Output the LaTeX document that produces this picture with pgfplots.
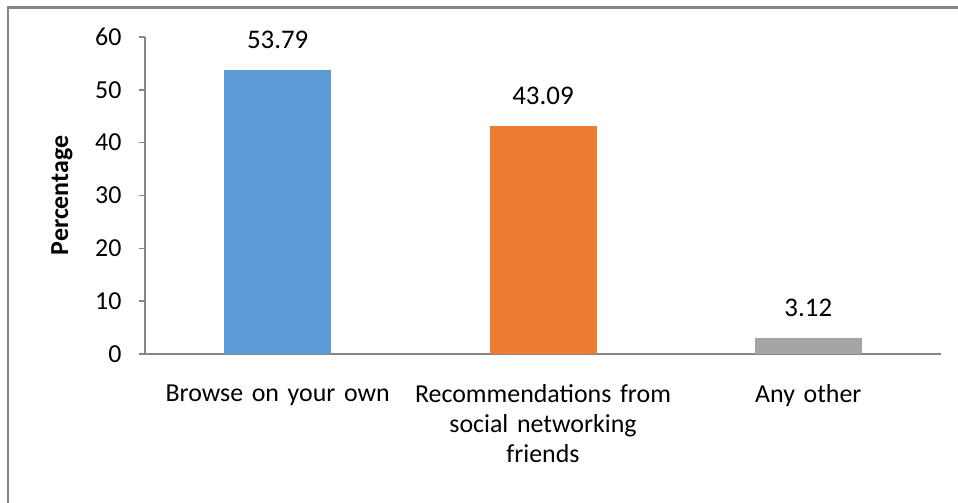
\documentclass[border=0pt]{standalone}
\usepackage{pgfplots}
\pgfplotsset{compat=1.18}
\usepackage{fontspec}
\setmainfont{Carlito}
\definecolor{axgray}{HTML}{868686}
\definecolor{cblue}{HTML}{5B9BD5}
\definecolor{corange}{HTML}{ED7D31}
\definecolor{cgray}{HTML}{A5A5A5}
\begin{document}
\begin{tikzpicture}[x=1bp,y=1bp]
\useasboundingbox (-145,-149) rectangle (813,354);
\draw[axgray, line width=2.2bp] (-137,-149) -- (-137,346.5) -- (813,346.5);
\begin{axis}[
  at={(0,0)}, anchor=south west,
  scale only axis, width=796bp, height=317bp,
  xmin=-0.5, xmax=2.5, ymin=0, ymax=60,
  axis x line*=bottom, axis y line*=left,
  axis line style={axgray, line width=1.4bp},
  every tick/.style={axgray, line width=1.4bp},
  ytick={0,10,...,60},
  ytick align=outside, major tick length=6bp,
  xtick={0,1,2},
  xticklabels={Browse on your own, Recommendations from\\social networking\\friends, Any other},
  x tick label style={align=center, text width=270bp, font=\fontsize{26}{30}\selectfont, yshift=-21bp},
  major x tick style={draw=none},
  extra x ticks={-0.5,0.5,1.5,2.5},
  extra x tick labels={},
  extra x tick style={major x tick style={axgray, line width=1.4bp}, major tick length=9bp, xticklabel style={text width=0bp}},
  y tick label style={font=\fontsize{26}{28}\selectfont, xshift=-14bp},
  /pgf/number format/assume math mode=true,
  ybar, bar width=107bp, bar shift=0pt,
  nodes near coords={\pgfmathprintnumber[fixed, precision=2, fixed zerofill]{\pgfplotspointmeta}},
  nodes near coords style={font=\fontsize{27}{28}\selectfont, anchor=center, yshift=30bp, text=black},
  clip=false,
]
\addplot[fill=cblue, draw=none] coordinates {(0,53.79)};
\addplot[fill=corange, draw=none] coordinates {(1,43.09)};
\addplot[fill=cgray, draw=none] coordinates {(2,3.12)};
\node[font=\fontsize{26}{28}\selectfont\bfseries, rotate=90] at ([xshift=-83bp]rel axis cs:0,0.5) {Percentage};
\end{axis}
\end{tikzpicture}
\end{document}
